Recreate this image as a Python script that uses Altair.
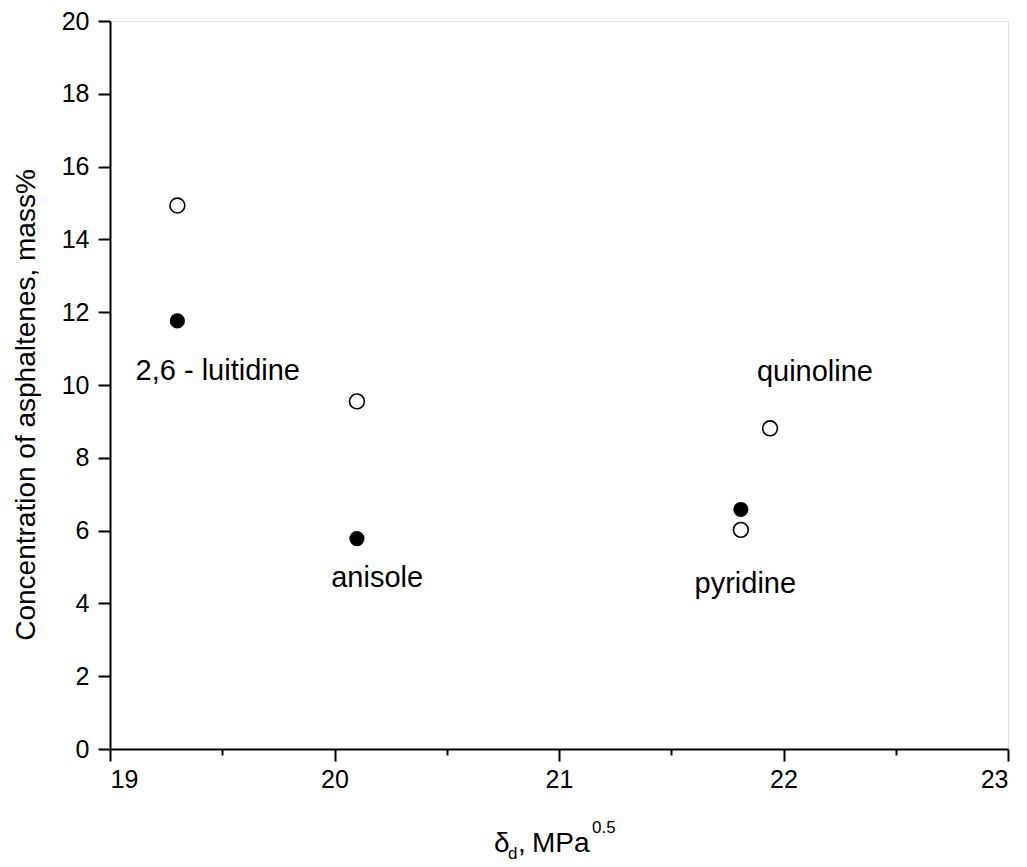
import altair as alt
import pandas as pd

# data
open_x = [19.30, 20.10, 21.81, 21.94]
open_y = [14.93, 9.55, 6.02, 8.81]
filled_x = [19.30, 20.10, 21.81]
filled_y = [11.76, 5.78, 6.58]

label_text = ["2,6 - luitidine", "anisole", "pyridine", "quinoline"]
label_x = [19.48, 20.19, 21.83, 22.14]
label_y = [10.15, 4.45, 4.28, 10.10]

x_ticks = [19, 19.5, 20, 20.5, 21, 21.5, 22, 22.5, 23]
y_ticks = list(range(0, 21))

FONT = "Liberation Sans"
W, H = 898, 728

df_open = pd.DataFrame({"x": open_x, "y": open_y})
df_filled = pd.DataFrame({"x": filled_x, "y": filled_y})
df_lab = pd.DataFrame({"t": label_text, "x": label_x, "y": label_y})

xscale = alt.Scale(domain=[19, 23], nice=False, zero=False)
yscale = alt.Scale(domain=[0, 20], nice=False, zero=False)

xaxis = alt.Axis(
    values=x_ticks, title=None, grid=False,
    labelExpr="datum.value % 1 === 0 ? format(datum.value, 'd') : ''",
    labelFont=FONT, labelFontSize=25, labelColor="black", labelPadding=6,
    tickColor="black", tickWidth=2,
    tickSize={"condition": {"test": "datum.value % 1 !== 0", "value": 6}, "value": 12},
    domainColor="black", domainWidth=2,
)
yaxis = alt.Axis(
    values=y_ticks, title=None, grid=False,
    labelExpr="datum.value % 2 === 0 ? format(datum.value, 'd') : ''",
    labelFont=FONT, labelFontSize=25, labelColor="black", labelPadding=9,
    tickColor="black", tickWidth=2,
    tickSize={"condition": {"test": "datum.value % 2 !== 0", "value": 6}, "value": 12},
    domainColor="black", domainWidth=2,
)

filled = alt.Chart(df_filled).mark_point(
    shape="circle", filled=True, color="black", size=230, opacity=1
).encode(
    x=alt.X("x:Q", scale=xscale, axis=xaxis),
    y=alt.Y("y:Q", scale=yscale, axis=yaxis),
)

opened = alt.Chart(df_open).mark_point(
    shape="circle", filled=True, fill="white", stroke="black", strokeWidth=1.6,
    size=220, opacity=1, fillOpacity=1, strokeOpacity=1
).encode(x=alt.X("x:Q", scale=xscale), y=alt.Y("y:Q", scale=yscale))

labels = alt.Chart(df_lab).mark_text(
    font=FONT, fontSize=29, color="black", align="center", baseline="alphabetic"
).encode(x=alt.X("x:Q", scale=xscale), y=alt.Y("y:Q", scale=yscale), text="t:N")

# x axis title built from pieces (subscript / superscript); pixel offsets from plot origin
OX, OY = 110, 21
title_parts = pd.DataFrame({
    "t": ["\u03b4", "d", ",", "MPa", "0.5"],
    "px": [494 - OX, 508 - OX, 518 - OX, 532 - OX, 592 - OX],
    "py": [852 - OY, 859 - OY, 852 - OY, 852 - OY, 833 - OY],
    "fs": [28, 17, 28, 28, 17],
})
xt = alt.Chart(title_parts).mark_text(
    font=FONT, color="black", align="left", baseline="alphabetic"
).encode(
    x=alt.X("px:Q", scale=None), y=alt.Y("py:Q", scale=None), text="t:N",
    size=alt.Size("fs:Q", scale=None, legend=None),
)

yt = alt.Chart(pd.DataFrame({"t": ["Concentration of asphaltenes, mass%"]})).mark_text(
    font=FONT, fontSize=28, color="black", align="center", baseline="alphabetic", angle=270
).encode(text="t:N", x=alt.value(35 - OX), y=alt.value(405 - OY))

chart = alt.layer(filled, opened, labels, xt, yt).properties(
    width=W, height=H,
    autosize=alt.AutoSizeParams(type="none"),
    padding={"left": 102, "top": 13, "right": 11, "bottom": 115},
).configure_view(stroke="black", strokeWidth=2).configure(background="white")

chart.save("out.html", embed_options={"renderer": "svg", "actions": False})
